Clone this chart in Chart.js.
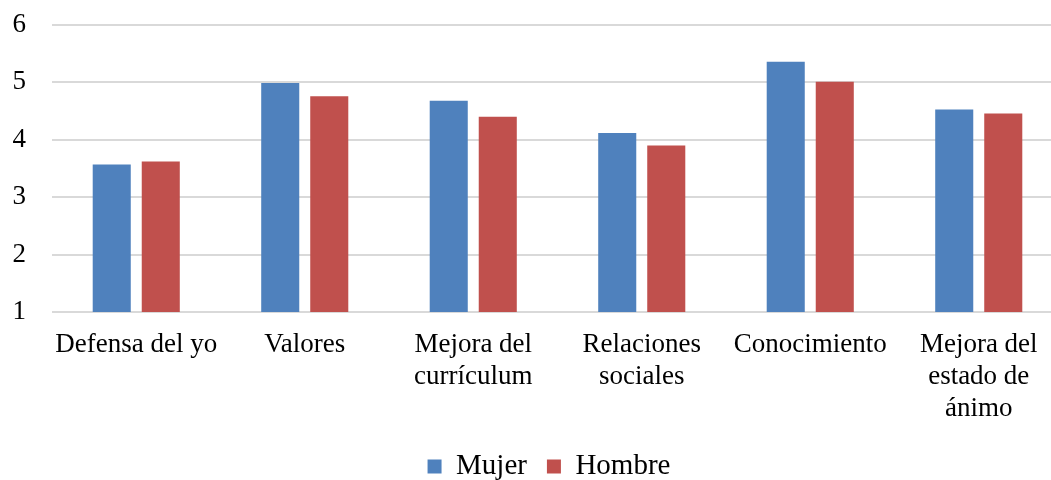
<!DOCTYPE html>
<html>
<head>
<meta charset="utf-8">
<script src="https://cdn.jsdelivr.net/npm/chart.js@4/dist/chart.umd.min.js"></script>
<style>
html, body { margin: 0; padding: 0; background: #ffffff; overflow: hidden; width: 1051px; height: 480px; }
#wrap { position: absolute; left: 0; top: 0; width: 1098px; height: 480px; }
</style>
</head>
<body>
<div id="wrap"><canvas id="c" width="1098" height="480"></canvas></div>
<script>
const categories = ["Defensa del yo", "Valores", ["Mejora del", "currículum"], ["Relaciones", "sociales"], "Conocimiento", ["Mejora del", "estado de", "ánimo"]];
const seriesNames = ["Mujer", "Hombre"];
const mujer = [3.57, 4.99, 4.68, 4.12, 5.36, 4.53];
const hombre = [3.62, 4.76, 4.40, 3.90, 5.01, 4.46];
const yMin = 1, yMax = 6, yStep = 1;

const FONT = "'Liberation Serif', 'Times New Roman', serif";

new Chart(document.getElementById('c'), {
  type: 'bar',
  data: {
    labels: categories,
    datasets: [
      { label: seriesNames[0], data: mujer, backgroundColor: '#4F81BD', borderWidth: 0, categoryPercentage: 0.582, barPercentage: 0.776, yAxisID: 'y' },
      { label: seriesNames[1], data: hombre, backgroundColor: '#C0504D', borderWidth: 0, categoryPercentage: 0.582, barPercentage: 0.776, yAxisID: 'y' }
    ]
  },
  options: {
    responsive: false,
    animation: false,
    devicePixelRatio: 1,
    layout: { padding: { left: 0, right: 0, top: 9, bottom: -11 } },
    plugins: {
      tooltip: { enabled: false },
      legend: {
        position: 'bottom',
        labels: {
          boxWidth: 14, boxHeight: 14, padding: 20, color: '#000',
          font: { family: FONT, size: 29 }
        }
      }
    },
    scales: {
      x: {
        grid: { display: false, drawTicks: false },
        border: { display: false },
        ticks: {
          color: '#000', autoSkip: false, maxRotation: 0, minRotation: 0, padding: 17,
          font: { family: FONT, size: 27, lineHeight: 1.19 }
        },
        afterFit: (s) => { s.height = 120; }
      },
      y: {
        position: 'left',
        min: yMin, max: yMax,
        grid: { color: '#D9D9D9', lineWidth: 2, drawTicks: false },
        border: { display: false },
        ticks: {
          stepSize: yStep, color: '#000', padding: 26,
          font: { family: FONT, size: 27 }
        },
        afterFit: (s) => { s.width = 52; s.paddingTop = 25; s.paddingBottom = 16; }
      },
      yRight: {
        position: 'right',
        type: 'linear',
        display: true,
        grid: { display: false, drawTicks: false },
        border: { display: false },
        ticks: { display: false },
        afterFit: (s) => { s.width = 35; s.paddingTop = 0; s.paddingBottom = 0; }
      }
    }
  }
});
</script>
</body>
</html>
